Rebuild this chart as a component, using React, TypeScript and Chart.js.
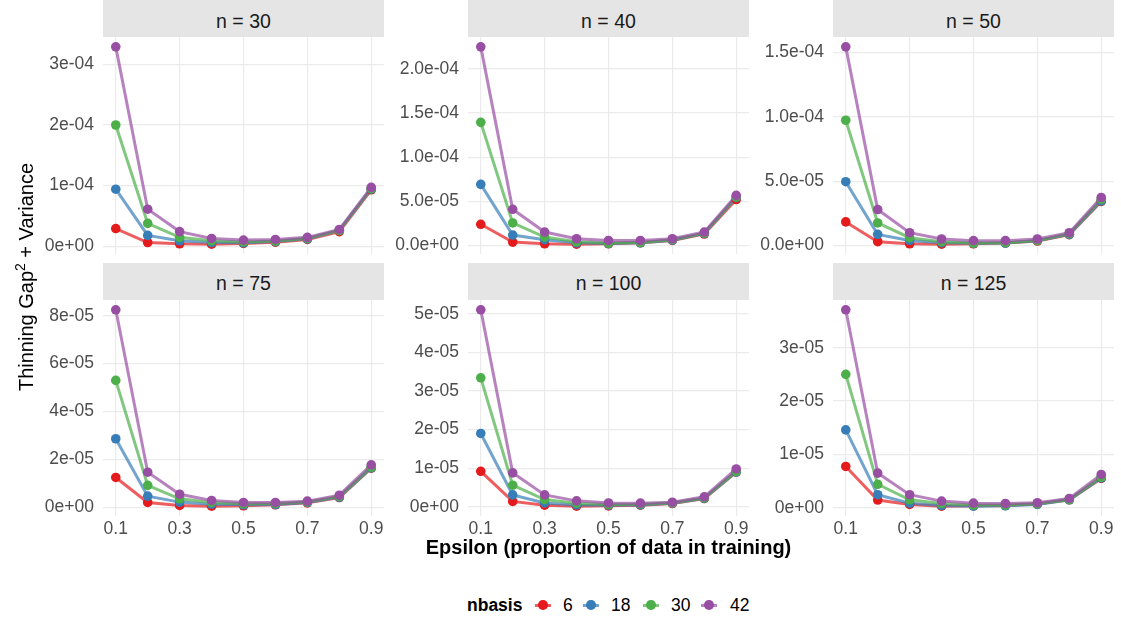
import React, { useEffect, useRef } from "react";
import { Chart, registerables } from "chart.js";

Chart.register(...registerables);

// ---------- data ----------
const epsilon = [0.1, 0.2, 0.3, 0.4, 0.5, 0.6, 0.7, 0.8, 0.9];
const nbasisLevels = ["6", "18", "30", "42"];
const panelTitles = ["n = 30", "n = 40", "n = 50", "n = 75", "n = 100", "n = 125"];
const xTickValues = [0.1, 0.3, 0.5, 0.7, 0.9];
const xTickLabels = ["0.1", "0.3", "0.5", "0.7", "0.9"];

// n = 30
const n30_nb6 = [2.9e-5, 6.0e-6, 3.9e-6, 3.3e-6, 4.4e-6, 6.6e-6, 1.1e-5, 2.4e-5, 9.3e-5];
const n30_nb18 = [9.4e-5, 1.77e-5, 8.8e-6, 6.0e-6, 5.5e-6, 7.5e-6, 1.2e-5, 2.6e-5, 9.4e-5];
const n30_nb30 = [2.0e-4, 3.75e-5, 1.45e-5, 8.8e-6, 7.0e-6, 8.5e-6, 1.3e-5, 2.6e-5, 9.5e-5];
const n30_nb42 = [3.29e-4, 6.1e-5, 2.4e-5, 1.27e-5, 1.0e-5, 1.1e-5, 1.45e-5, 2.75e-5, 9.7e-5];
// n = 40
const n40_nb6 = [2.4e-5, 3.8e-6, 1.9e-6, 1.5e-6, 1.9e-6, 3.0e-6, 5.7e-6, 1.3e-5, 5.2e-5];
const n40_nb18 = [6.92e-5, 1.18e-5, 6.5e-6, 3.0e-6, 2.3e-6, 3.0e-6, 6.0e-6, 1.37e-5, 5.44e-5];
const n40_nb30 = [1.395e-4, 2.55e-5, 9.5e-6, 4.2e-6, 2.7e-6, 3.4e-6, 6.5e-6, 1.4e-5, 5.5e-5];
const n40_nb42 = [2.25e-4, 4.1e-5, 1.52e-5, 7.6e-6, 5.7e-6, 5.7e-6, 7.6e-6, 1.52e-5, 5.67e-5];
// n = 50
const n50_nb6 = [1.83e-5, 2.9e-6, 1.3e-6, 1.0e-6, 1.3e-6, 1.8e-6, 3.4e-6, 8.4e-6, 3.42e-5];
const n50_nb18 = [4.96e-5, 8.6e-6, 3.9e-6, 2.1e-6, 1.6e-6, 1.8e-6, 3.7e-6, 8.6e-6, 3.47e-5];
const n50_nb30 = [9.74e-5, 1.75e-5, 6.0e-6, 2.9e-6, 1.8e-6, 2.1e-6, 3.9e-6, 9.1e-6, 3.58e-5];
const n50_nb42 = [1.545e-4, 2.79e-5, 9.9e-6, 5.0e-6, 3.7e-6, 3.7e-6, 5.0e-6, 9.9e-6, 3.73e-5];
// n = 75
const n75_nb6 = [1.24e-5, 1.95e-6, 7.0e-7, 4.0e-7, 5.6e-7, 1.0e-6, 1.8e-6, 4.0e-6, 1.63e-5];
const n75_nb18 = [2.86e-5, 4.6e-6, 2.1e-6, 1.25e-6, 1.0e-6, 1.1e-6, 1.95e-6, 4.2e-6, 1.64e-5];
const n75_nb30 = [5.3e-5, 9.1e-6, 3.5e-6, 1.95e-6, 1.4e-6, 1.5e-6, 2.2e-6, 4.5e-6, 1.67e-5];
const n75_nb42 = [8.25e-5, 1.46e-5, 5.4e-6, 2.8e-6, 1.95e-6, 1.95e-6, 2.5e-6, 5.0e-6, 1.77e-5];
// n = 100
const n100_nb6 = [9.2e-6, 1.4e-6, 4.3e-7, 1.7e-7, 2.6e-7, 4.3e-7, 8.6e-7, 2.15e-6, 9.0e-6];
const n100_nb18 = [1.9e-5, 3.1e-6, 1.0e-6, 5.0e-7, 4.3e-7, 5.0e-7, 9.5e-7, 2.2e-6, 9.05e-6];
const n100_nb30 = [3.34e-5, 5.6e-6, 1.9e-6, 9.5e-7, 6.0e-7, 7.0e-7, 1.0e-6, 2.3e-6, 9.2e-6];
const n100_nb42 = [5.1e-5, 8.8e-6, 3.1e-6, 1.55e-6, 1.0e-6, 9.5e-7, 1.2e-6, 2.6e-6, 9.8e-6];
// n = 125
const n125_nb6 = [7.75e-6, 1.45e-6, 6.2e-7, 3.0e-7, 3.7e-7, 4.4e-7, 6.9e-7, 1.5e-6, 5.5e-6];
const n125_nb18 = [1.46e-5, 2.45e-6, 8.7e-7, 4.4e-7, 3.0e-7, 3.7e-7, 6.2e-7, 1.5e-6, 5.6e-6];
const n125_nb30 = [2.5e-5, 4.4e-6, 1.5e-6, 8.0e-7, 5.0e-7, 5.0e-7, 7.5e-7, 1.55e-6, 5.75e-6];
const n125_nb42 = [3.71e-5, 6.5e-6, 2.45e-6, 1.25e-6, 8.7e-7, 8.0e-7, 9.4e-7, 1.75e-6, 6.25e-6];

// y tick values / labels per panel
const n30_yTicks = [0, 1e-4, 2e-4, 3e-4];
const n30_yLabels = ["0e+00", "1e-04", "2e-04", "3e-04"];
const n40_yTicks = [0, 5e-5, 1e-4, 1.5e-4, 2e-4];
const n40_yLabels = ["0.0e+00", "5.0e-05", "1.0e-04", "1.5e-04", "2.0e-04"];
const n50_yTicks = [0, 5e-5, 1e-4, 1.5e-4];
const n50_yLabels = ["0.0e+00", "5.0e-05", "1.0e-04", "1.5e-04"];
const n75_yTicks = [0, 2e-5, 4e-5, 6e-5, 8e-5];
const n75_yLabels = ["0e+00", "2e-05", "4e-05", "6e-05", "8e-05"];
const n100_yTicks = [0, 1e-5, 2e-5, 3e-5, 4e-5, 5e-5];
const n100_yLabels = ["0e+00", "1e-05", "2e-05", "3e-05", "4e-05", "5e-05"];
const n125_yTicks = [0, 1e-5, 2e-5, 3e-5];
const n125_yLabels = ["0e+00", "1e-05", "2e-05", "3e-05"];

// ---------- style ----------
const pointColors = ["#E41A1C", "#377EB8", "#4DAF4A", "#984EA3"];
const lineColors = [
  "rgba(228,26,28,0.7)",
  "rgba(55,126,184,0.7)",
  "rgba(77,175,74,0.7)",
  "rgba(152,78,163,0.7)",
];
const FONT = "'Liberation Sans', Arial, Helvetica, sans-serif";
const GRID = "#EBEBEB";

const COL_LEFT = [103, 468, 833];
const PLOT_W = 281;
const STRIP_TOP = [0, 263];
const STRIP_H = 37;
const ROW_TOP = [37, 300];
const ROW_H = [217, 216];
const YAXIS_W = 85;
const PAD_T = 20;
const PAD_R = 8;
const PAD_B = 20;
const XAXIS_H = 40;

const panelSeries = [
  [n30_nb6, n30_nb18, n30_nb30, n30_nb42],
  [n40_nb6, n40_nb18, n40_nb30, n40_nb42],
  [n50_nb6, n50_nb18, n50_nb30, n50_nb42],
  [n75_nb6, n75_nb18, n75_nb30, n75_nb42],
  [n100_nb6, n100_nb18, n100_nb30, n100_nb42],
  [n125_nb6, n125_nb18, n125_nb30, n125_nb42],
];
const panelYTicks = [n30_yTicks, n40_yTicks, n50_yTicks, n75_yTicks, n100_yTicks, n125_yTicks];
const panelYLabels = [n30_yLabels, n40_yLabels, n50_yLabels, n75_yLabels, n100_yLabels, n125_yLabels];

function Panel(props: {
  series: number[][];
  yTicks: number[];
  yLabels: string[];
  left: number;
  top: number;
  plotH: number;
  showX: boolean;
}) {
  const { series, yTicks, yLabels, left, top, plotH, showX } = props;
  const ref = useRef<HTMLCanvasElement>(null);
  const width = YAXIS_W + PLOT_W + PAD_R;
  const height = PAD_T + plotH + (showX ? XAXIS_H : PAD_B);

  useEffect(() => {
    if (!ref.current) return;
    const all = series.flat();
    const lo = Math.min(...all);
    const hi = Math.max(...all);
    const yPad = (hi - lo) * 0.05;
    const xLo = Math.min(...epsilon);
    const xHi = Math.max(...epsilon);
    const xPad = (xHi - xLo) * 0.05;

    const datasets: any[] = [];
    series.forEach((s, i) => {
      datasets.push({
        label: nbasisLevels[i] + " line",
        data: epsilon.map((x, j) => ({ x, y: s[j] })),
        borderColor: lineColors[i],
        borderWidth: 3,
        pointRadius: 0,
        fill: false,
        tension: 0,
        order: 20 - i,
      });
    });
    series.forEach((s, i) => {
      datasets.push({
        label: nbasisLevels[i],
        data: epsilon.map((x, j) => ({ x, y: s[j] })),
        showLine: false,
        pointRadius: 4.8,
        pointBackgroundColor: pointColors[i],
        pointBorderWidth: 0,
        borderColor: pointColors[i],
        order: 10 - i,
      });
    });

    const chart = new Chart(ref.current, {
      type: "line",
      data: { datasets },
      options: {
        animation: false,
        responsive: false,
        devicePixelRatio: 1,
        events: [],
        clip: false as any,
        layout: { padding: { top: PAD_T, right: PAD_R, bottom: showX ? 0 : PAD_B, left: 0 } },
        plugins: { legend: { display: false }, tooltip: { enabled: false } },
        scales: {
          x: {
            type: "linear",
            min: xLo - xPad,
            max: xHi + xPad,
            afterBuildTicks: (s: any) => {
              s.ticks = xTickValues.map((v) => ({ value: v }));
            },
            afterFit: (s: any) => {
              s.height = showX ? XAXIS_H : 0;
            },
            grid: { color: GRID, lineWidth: 1.2, drawTicks: false },
            border: { display: false },
            ticks: {
              display: showX,
              autoSkip: false,
              maxRotation: 0,
              padding: 3,
              color: "#4D4D4D",
              font: { family: FONT, size: 17.5 },
              callback: (_v: any, i: number) => xTickLabels[i],
            },
          },
          y: {
            type: "linear",
            min: lo - yPad,
            max: hi + yPad,
            afterBuildTicks: (s: any) => {
              s.ticks = yTicks.map((v) => ({ value: v }));
            },
            afterFit: (s: any) => {
              s.width = YAXIS_W;
            },
            grid: { color: GRID, lineWidth: 1.2, drawTicks: false },
            border: { display: false },
            ticks: {
              padding: 9,
              color: "#4D4D4D",
              font: { family: FONT, size: 17.5 },
              callback: (_v: any, i: number) => yLabels[i],
            },
          },
        },
      } as any,
    });
    return () => chart.destroy();
  }, []);

  return (
    <canvas
      ref={ref}
      width={width}
      height={height}
      style={{ position: "absolute", left, top, width, height }}
    />
  );
}

export default function App() {
  const panels = panelTitles.map((title, idx) => {
    const r = Math.floor(idx / 3);
    const c = idx % 3;
    return (
      <React.Fragment key={title}>
        <div
          style={{
            position: "absolute",
            left: COL_LEFT[c],
            top: STRIP_TOP[r],
            width: PLOT_W,
            height: STRIP_H,
            background: "#E5E5E5",
          }}
        >
          <div
            style={{
              position: "absolute",
              left: 0,
              right: 0,
              top: r === 0 ? 12 : 11,
              textAlign: "center",
              fontFamily: FONT,
              fontSize: 19.5,
              lineHeight: "19.5px",
              color: "#1A1A1A",
              whiteSpace: "nowrap",
            }}
          >
            {title}
          </div>
        </div>
      </React.Fragment>
    );
  });

  const canvases = panelTitles.map((title, idx) => {
    const r = Math.floor(idx / 3);
    const c = idx % 3;
    return (
      <Panel
        key={"p" + title}
        series={panelSeries[idx]}
        yTicks={panelYTicks[idx]}
        yLabels={panelYLabels[idx]}
        left={COL_LEFT[c] - YAXIS_W}
        top={ROW_TOP[r] - PAD_T}
        plotH={ROW_H[r]}
        showX={r === 1}
      />
    );
  });

  const legendKeys = [543, 591, 651, 709];
  const legendLabelLeft = [563, 611, 671, 730];

  return (
    <div
      style={{
        position: "fixed",
        left: 0,
        top: 0,
        width: 1121,
        height: 621,
        background: "#FFFFFF",
        overflow: "hidden",
        fontFamily: FONT,
      }}
    >
      {panels}
      {canvases}
      {/* y axis title */}
      <div
        style={{
          position: "absolute",
          left: 25.5 - 160,
          top: 277 - 10,
          width: 320,
          height: 20,
          lineHeight: "20px",
          fontSize: 20,
          textAlign: "center",
          color: "#000",
          transform: "rotate(-90deg)",
          whiteSpace: "nowrap",
        }}
      >
        Thinning Gap
        <span style={{ fontSize: 14, position: "relative", top: -8 }}>2</span> + Variance
      </div>
      {/* x axis title */}
      <div
        style={{
          position: "absolute",
          left: COL_LEFT[0],
          top: 537,
          width: COL_LEFT[2] + PLOT_W - COL_LEFT[0],
          lineHeight: "20px",
          fontSize: 20,
          fontWeight: "bold",
          textAlign: "center",
          color: "#000",
          whiteSpace: "nowrap",
        }}
      >
        Epsilon (proportion of data in training)
      </div>
      {/* legend */}
      <div
        style={{
          position: "absolute",
          left: 467,
          top: 597,
          fontSize: 17.5,
          lineHeight: "17.5px",
          fontWeight: "bold",
          color: "#000",
          whiteSpace: "nowrap",
        }}
      >
        nbasis
      </div>
      {nbasisLevels.map((lab, i) => (
        <React.Fragment key={lab}>
          <div
            style={{
              position: "absolute",
              left: legendKeys[i] - 8,
              top: 605 - 1.5,
              width: 16,
              height: 3,
              background: lineColors[i],
            }}
          />
          <div
            style={{
              position: "absolute",
              left: legendKeys[i] - 4.8,
              top: 605 - 4.8,
              width: 9.6,
              height: 9.6,
              borderRadius: "50%",
              background: pointColors[i],
            }}
          />
          <div
            style={{
              position: "absolute",
              left: legendLabelLeft[i],
              top: 597,
              fontSize: 17.5,
              lineHeight: "17.5px",
              color: "#000",
              whiteSpace: "nowrap",
            }}
          >
            {lab}
          </div>
        </React.Fragment>
      ))}
    </div>
  );
}
